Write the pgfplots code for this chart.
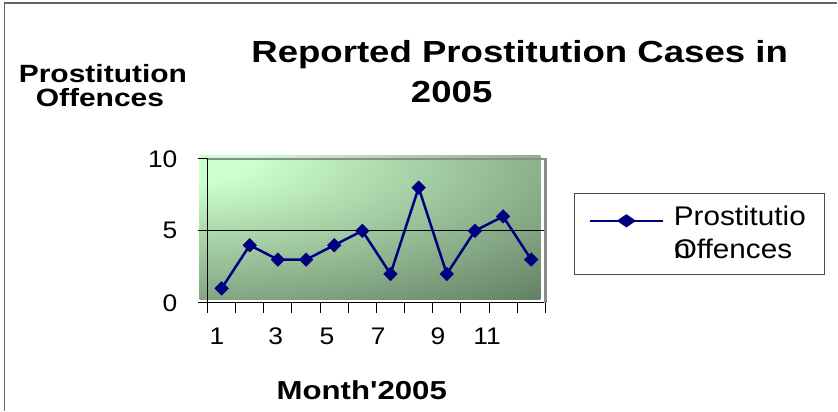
\documentclass[border=0pt]{standalone}
\usepackage{fontspec}
\setmainfont{Liberation Sans}[FakeStretch=1.1]
\newfontfamily\widebf{Liberation Sans}[FakeStretch=1.2]
\usepackage{pgfplots}
\pgfplotsset{compat=1.18}
\definecolor{navyline}{RGB}{0,0,128}
\pgfdeclarefunctionalshading{wall}{\pgfpointorigin}{\pgfpoint{100bp}{100bp}}{}{
  74 sub 0.97 mul dup mul exch 23 sub 0.82 mul dup mul add sqrt
  8 sub 60 div
  dup 0 lt {pop 0} if
  dup 1 gt {pop 1} if
  dup -0.44 mul 0.8 add
  exch dup -0.537 mul 1.0 add
  exch -0.44 mul 0.8 add
}
\begin{document}
\begin{tikzpicture}
\path (0pt,0pt) rectangle (838pt,411pt);
\draw[black!60, line width=1.2pt] (4.5pt,0pt) -- (4.5pt,408pt) -- (838pt,408pt);
\node[font=\widebf\bfseries\fontsize{30.5}{36}\selectfont, anchor=base, inner sep=0pt] at (520pt,348pt) {Reported Prostitution Cases in};
\node[font=\widebf\bfseries\fontsize{30.5}{36}\selectfont, anchor=base, inner sep=0pt] at (452pt,308pt) {2005};
\node[font=\widebf\bfseries\fontsize{25}{30}\selectfont, anchor=base, inner sep=0pt] at (103pt,328pt) {Prostitution};
\node[font=\widebf\bfseries\fontsize{25}{30}\selectfont, anchor=base, inner sep=0pt] at (100pt,304pt) {Offences};
\node[font=\widebf\bfseries\fontsize{26}{30}\selectfont, anchor=base, inner sep=0pt] at (362pt,11pt) {Month'2005};
\begin{axis}[
  at={(207.7pt,108pt)}, anchor=south west,
  scale only axis, width=338pt, height=144pt,
  xmin=0.5, xmax=12.5, ymin=0, ymax=10,
  axis lines*=left,
  axis line style={-, black, line width=1.2pt},
  xtick={0.5,1.5,...,12.5}, xticklabels={},
  extra x ticks={0.83,2.92,4.74,6.56,8.69,10.43},
  extra x tick labels={1,3,5,7,9,11},
  extra x tick style={major tick length=0pt},
  ytick={0,5,10},
  tick align=outside, major tick length=10pt,
  tick style={black, line width=1pt},
  ymajorgrids, grid style={black, line width=0.8pt},
  /pgf/number format/assume math mode=true,
  tick label style={font=\fontsize{24}{28}\selectfont},
  yticklabel style={anchor=east, inner sep=0pt, xshift=-20pt},
  xticklabel style={anchor=north, inner sep=0pt, yshift=-25pt},
  set layers, clip=false,
  legend style={at={(1.0858,0.764)}, anchor=north west, draw=black!70, line width=0.8pt,
    inner xsep=0pt, inner ysep=13pt, row sep=0pt, column sep=10pt,
    font=\fontsize{27}{33}\selectfont,
    nodes={inner sep=0pt},
    cells={align=left, anchor=base west, text width=151pt, text depth={}, text height={}}},
  legend image code/.code={
    \path (0pt,0pt);
    \path (0pt,-34pt);
    \draw[#1, line width=2pt] (14pt,5pt) -- (87pt,5pt);
    \path[#1, mark options={xscale=1.35, yscale=0.92, rotate=45, solid, fill=navyline, line width=0.5pt}] plot coordinates {(50.5pt,5pt)};
  },
]
\begin{pgfonlayer}{axis background}
\shade[shading=wall] ([xshift=-8pt,yshift=3pt]rel axis cs:0,0) rectangle ([xshift=-5pt,yshift=3pt]rel axis cs:1,1);
\end{pgfonlayer}
\draw[black!45, line width=2.5pt] (rel axis cs:0,1) -- (rel axis cs:1,1) -- (rel axis cs:1,0);
\addplot[navyline, line width=2.5pt, mark=square*, mark size=4.8pt,
  mark options={rotate=45, solid, fill=navyline, line width=0.5pt}]
  coordinates {(1,1) (2,4) (3,3) (4,3) (5,4) (6,5) (7,2) (8,8) (9,2) (10,5) (11,6) (12,3)};
\addlegendentry{Prostitutio\\\leavevmode\rlap{n}Offences}
\end{axis}
\end{tikzpicture}
\end{document}
